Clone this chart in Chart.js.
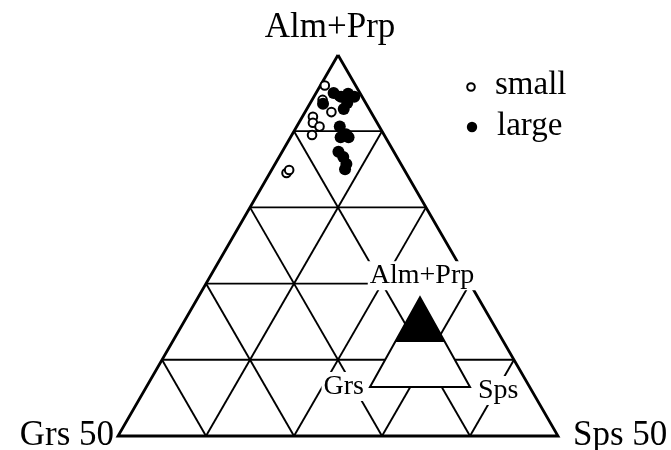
<!DOCTYPE html>
<html>
<head>
<meta charset="utf-8">
<script src="https://cdn.jsdelivr.net/npm/chart.js@4/dist/chart.umd.min.js"></script>
<style>
  html, body { margin: 0; padding: 0; background: #fff; }
  #wrap { width: 671px; height: 450px; position: relative; }
</style>
</head>
<body>
<div id="wrap"><canvas id="chart"></canvas></div>
<script>
// Garnet compositions (mol %), top half of the Alm+Prp / Grs / Sps triangle
const smallAlmPrp = [96.0, 94.1, 94.6, 92.5, 91.9, 91.1, 90.6, 89.5, 84.5, 84.9];
const smallGrs    = [3.5, 4.7, 2.6, 4.5, 6.9, 7.3, 6.8, 8.2, 13.6, 13.1];
const smallSps    = [0.5, 1.2, 2.8, 3.0, 1.2, 1.6, 2.6, 2.3, 1.9, 2.0];

const largeAlmPrp = [93.6, 95.0, 94.5, 94.9, 94.5, 93.7, 92.9, 90.6, 89.6, 89.2, 89.2, 87.3, 86.6, 85.7, 85.0];
const largeGrs    = [4.9, 3.0, 2.4, 1.4, 0.9, 2.1, 2.9, 4.5, 4.3, 5.1, 4.2, 6.3, 6.1, 6.2, 6.7];
const largeSps    = [1.5, 2.0, 3.1, 3.7, 4.6, 4.2, 4.2, 4.9, 6.1, 5.7, 6.6, 6.4, 7.3, 8.1, 8.3];

// grid ticks (%)
const almPrpTicks = [60, 70, 80, 90];
const grsTicks = [10, 20, 30, 40];
const spsTicks = [10, 20, 30, 40];

const cornerLabels = ['Alm+Prp', 'Grs 50', 'Sps 50'];
const seriesNames = ['small', 'large'];

// ternary -> cartesian (triangle side = 1, lower-left corner = Grs 50)
const H = Math.sqrt(3) / 2;
function toXY(almPrp, grs, sps) {
  const a = (almPrp - 50) / 50;
  const s = sps / 50;
  return { x: s + a / 2, y: a * H };
}

function lineSet(points, width, order) {
  return {
    type: 'scatter',
    data: points,
    showLine: true,
    borderColor: '#000',
    borderWidth: width,
    pointRadius: 0,
    fill: false,
    order: order,
    clip: false
  };
}

const datasets = [];

// grid lines parallel to each side
almPrpTicks.forEach(t => {
  datasets.push(lineSet([toXY(t, 100 - t, 0), toXY(t, 0, 100 - t)], 1.9, 5));
});
grsTicks.forEach(g => {
  datasets.push(lineSet([toXY(100 - g, g, 0), toXY(50, g, 50 - g)], 1.9, 5));
});
spsTicks.forEach(s => {
  datasets.push(lineSet([toXY(100 - s, 0, s), toXY(50, 50 - s, s)], 1.9, 5));
});

// outline
datasets.push(lineSet([toXY(100, 0, 0), toXY(50, 50, 0), toXY(50, 0, 50), toXY(100, 0, 0)], 2.8, 4));

datasets.push({
  type: 'scatter',
  label: seriesNames[0],
  data: smallAlmPrp.map((v, i) => toXY(v, smallGrs[i], smallSps[i])),
  pointRadius: 4.3,
  pointBackgroundColor: '#fff',
  pointBorderColor: '#000',
  pointBorderWidth: 2,
  order: 1,
  clip: false
});
datasets.push({
  type: 'scatter',
  label: seriesNames[1],
  data: largeAlmPrp.map((v, i) => toXY(v, largeGrs[i], largeSps[i])),
  pointRadius: 6,
  pointBackgroundColor: '#000',
  pointBorderColor: '#000',
  pointBorderWidth: 0,
  order: 0,
  clip: false
});

// inset key triangle, in chart units
const inset = { x0: 0.5727, y0: 0.1114, side: 0.2273, height: 0.204 };

function textWithBg(ctx, txt, x, y, align) {
  ctx.textAlign = align;
  const w = ctx.measureText(txt).width;
  let left = x;
  if (align === 'center') left = x - w / 2;
  if (align === 'right') left = x - w;
  ctx.fillStyle = '#fff';
  ctx.fillRect(left - 2, y - 22, w + 4, 29);
  ctx.fillStyle = '#000';
  ctx.fillText(txt, x, y);
}

const decor = {
  id: 'decor',
  afterDatasetsDraw(chart) {
    const ctx = chart.ctx;
    const xs = chart.scales.x, ys = chart.scales.y;
    const px = v => xs.getPixelForValue(v);
    const py = v => ys.getPixelForValue(v);
    ctx.save();

    // inset
    const bl = [px(inset.x0), py(inset.y0)];
    const br = [px(inset.x0 + inset.side), py(inset.y0)];
    const ap = [px(inset.x0 + inset.side / 2), py(inset.y0 + inset.height)];
    ctx.beginPath();
    ctx.moveTo(bl[0], bl[1]); ctx.lineTo(br[0], br[1]); ctx.lineTo(ap[0], ap[1]); ctx.closePath();
    ctx.fillStyle = '#fff';
    ctx.fill();
    const mid = py(inset.y0 + inset.height / 2);
    const ml = px(inset.x0 + inset.side / 4), mr = px(inset.x0 + inset.side * 3 / 4);
    ctx.beginPath();
    ctx.moveTo(ap[0], ap[1]); ctx.lineTo(ml, mid); ctx.lineTo(mr, mid); ctx.closePath();
    ctx.fillStyle = '#000';
    ctx.fill();
    ctx.beginPath();
    ctx.moveTo(bl[0], bl[1]); ctx.lineTo(br[0], br[1]); ctx.lineTo(ap[0], ap[1]); ctx.closePath();
    ctx.lineWidth = 2;
    ctx.strokeStyle = '#000';
    ctx.stroke();

    ctx.font = '28px "Liberation Serif", "Times New Roman", serif';
    ctx.textBaseline = 'alphabetic';
    textWithBg(ctx, cornerLabels[0], ap[0] + 2, ap[1] - 14, 'center');
    textWithBg(ctx, 'Grs', bl[0] - 6, bl[1] + 7, 'right');
    textWithBg(ctx, 'Sps', br[0] + 8, br[1] + 11, 'left');

    // corner labels of the main triangle
    ctx.font = '35px "Liberation Serif", "Times New Roman", serif';
    ctx.fillStyle = '#000';
    const top = [px(0.5), py(H)];
    ctx.textAlign = 'center';
    ctx.fillText(cornerLabels[0], top[0] - 8, top[1] - 18);
    ctx.textAlign = 'right';
    ctx.fillText(cornerLabels[1], px(0) - 4, py(0) + 9);
    ctx.textAlign = 'left';
    ctx.fillText(cornerLabels[2], px(1) + 15, py(0) + 9);

    // legend
    ctx.font = '33px "Liberation Serif", "Times New Roman", serif';
    ctx.textAlign = 'left';
    const lx = 471;
    ctx.beginPath();
    ctx.arc(lx, 87, 3.8, 0, Math.PI * 2);
    ctx.fillStyle = '#fff'; ctx.fill();
    ctx.lineWidth = 2; ctx.strokeStyle = '#000'; ctx.stroke();
    ctx.fillStyle = '#000';
    ctx.fillText(seriesNames[0], 495, 94);
    ctx.beginPath();
    ctx.arc(lx + 1, 127, 5.2, 0, Math.PI * 2);
    ctx.fill();
    ctx.fillText(seriesNames[1], 497, 135);

    ctx.restore();
  }
};

new Chart(document.getElementById('chart'), {
  type: 'scatter',
  data: { datasets },
  options: {
    responsive: true,
    maintainAspectRatio: false,
    animation: false,
    events: [],
    layout: { padding: 0, autoPadding: false },
    plugins: { legend: { display: false }, tooltip: { enabled: false } },
    scales: {
      x: { type: 'linear', display: false, min: -118 / 440, max: 553 / 440 },
      y: { type: 'linear', display: false, min: -14 / 440, max: 436 / 440 }
    }
  },
  plugins: [decor]
});
</script>
</body>
</html>
